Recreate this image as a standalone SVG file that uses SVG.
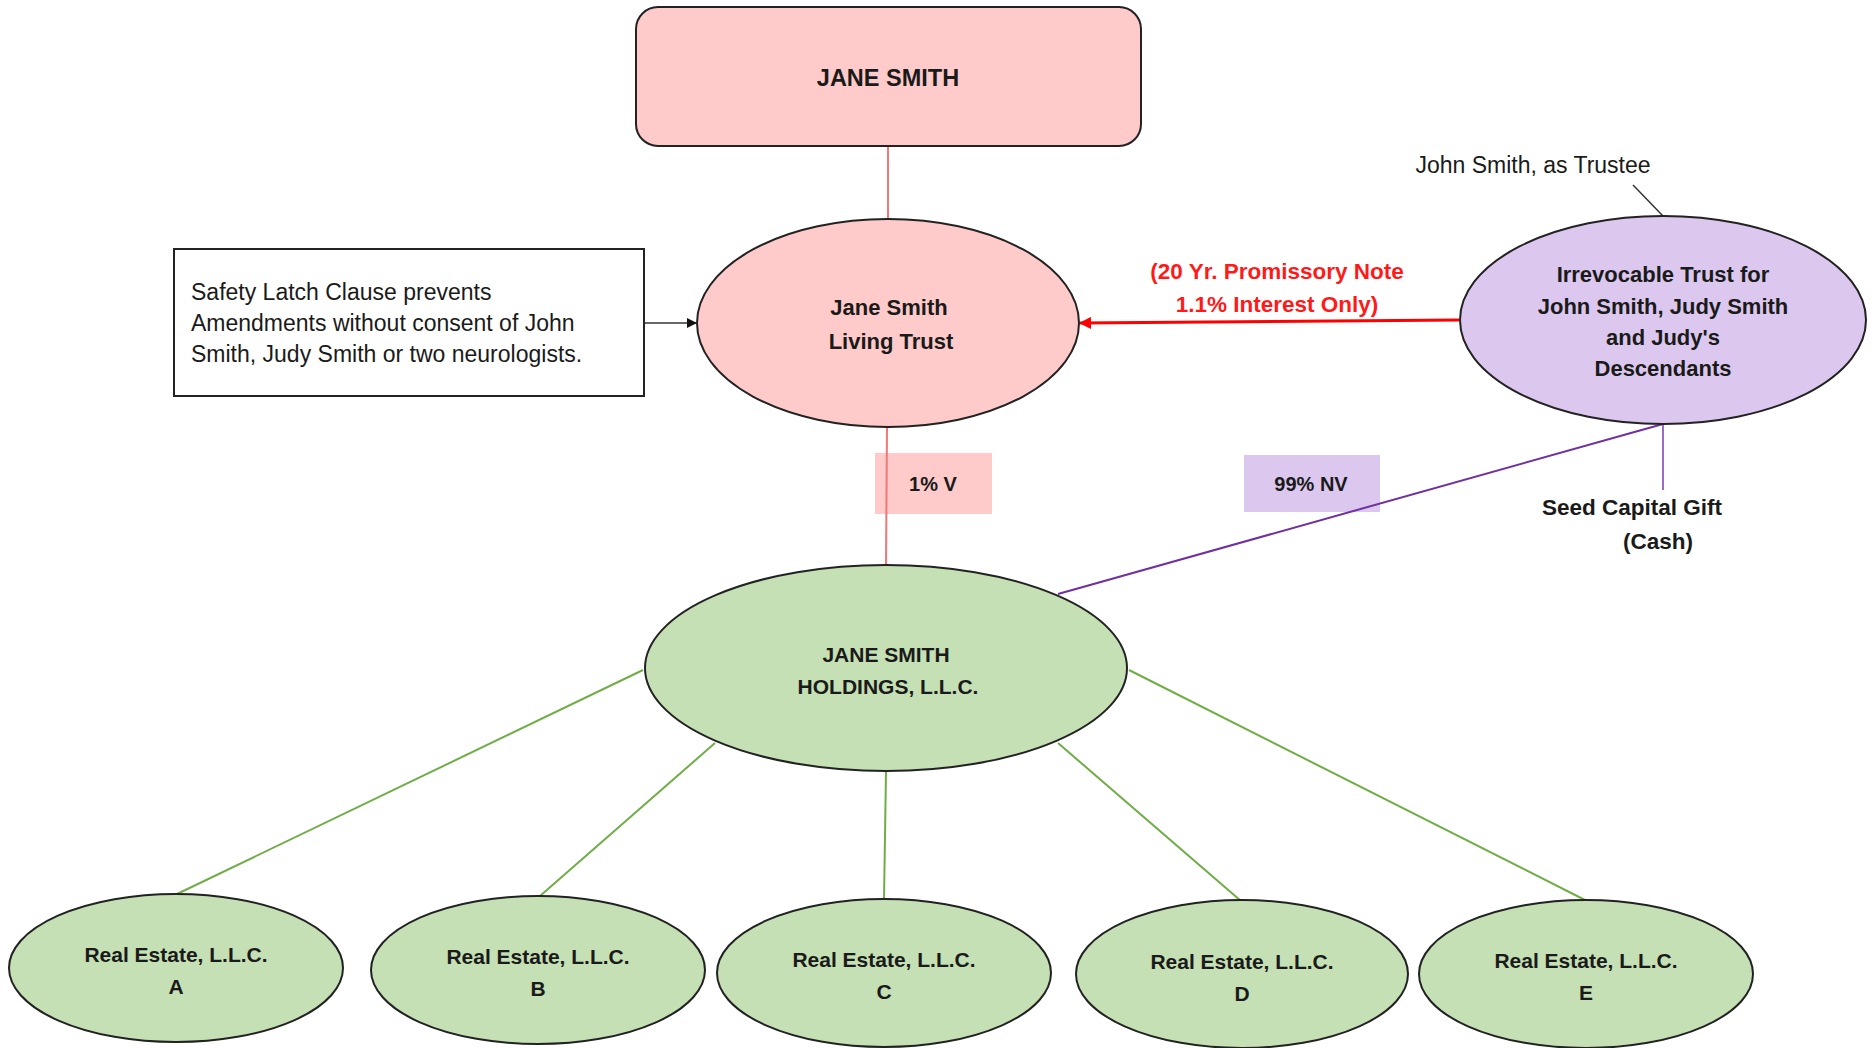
<svg xmlns="http://www.w3.org/2000/svg" width="1874" height="1048" viewBox="0 0 1874 1048">
<style>
text{font-family:"Liberation Sans",Arial,sans-serif;fill:#1a1a1a;text-anchor:middle}
.b{font-weight:bold;font-size:21px}
.b22{font-weight:bold;font-size:22px}
.r{font-size:23px}
.red{fill:#ff1a1a;font-weight:bold;font-size:22.5px}
.node{stroke:#222;stroke-width:2}
.pink{fill:#ffcaca}
.green{fill:#c5e0b4}
.purple{fill:#dcc8ee}
.gl{stroke:#70ad47;stroke-width:2;fill:none}
</style>
<defs>
<marker id="ab" markerWidth="10" markerHeight="10" refX="9" refY="5" orient="auto" markerUnits="userSpaceOnUse"><path d="M0,0 L10,5 L0,10 Z" fill="#111"/></marker>
<marker id="ar" markerWidth="12" markerHeight="12" refX="11" refY="6" orient="auto" markerUnits="userSpaceOnUse"><path d="M0,0 L12,6 L0,12 Z" fill="#ff0000"/></marker>
</defs>
<g id="labels">
<rect x="875" y="453" width="117" height="61" fill="#ffcaca"/>
<text class="b" x="933" y="491" style="font-size:20px">1% V</text>
<rect x="1244" y="455" width="136" height="57" fill="#dcc8ee"/>
<text class="b" x="1311" y="491" style="font-size:20px">99% NV</text>
<text class="r" x="1533" y="173">John Smith, as Trustee</text>
<text class="b" x="1632" y="515" style="font-size:22.5px">Seed Capital Gift</text>
<text class="b" x="1658" y="549" style="font-size:22.5px">(Cash)</text>
<text class="red" x="1277" y="279">(20 Yr. Promissory Note</text>
<text class="red" x="1277" y="312">1.1% Interest Only)</text>
</g>
<g id="connectors">
<line x1="888" y1="147" x2="888" y2="219" stroke="#f07878" stroke-width="2"/>
<line x1="887" y1="427" x2="886" y2="565" stroke="#f07878" stroke-width="2"/>
<line x1="644" y1="323" x2="696" y2="323" stroke="#333" stroke-width="1.5" marker-end="url(#ab)"/>
<line x1="1459" y1="320" x2="1080" y2="323" stroke="#ff0000" stroke-width="3" marker-end="url(#ar)"/>
<line x1="1633" y1="185" x2="1663" y2="216" stroke="#333" stroke-width="1.5"/>
<line x1="1663" y1="424" x2="1663" y2="490" stroke="#9a6cc8" stroke-width="2"/>
<line x1="1663" y1="424" x2="1058" y2="594" stroke="#7030a0" stroke-width="2"/>
<line class="gl" x1="643" y1="670" x2="177" y2="894"/>
<line class="gl" x1="715" y1="743" x2="540" y2="896"/>
<line class="gl" x1="886" y1="772" x2="884" y2="899"/>
<line class="gl" x1="1058" y1="743" x2="1241" y2="901"/>
<line class="gl" x1="1129" y1="670" x2="1585" y2="900"/>
</g>
<g id="jane-smith">
<rect class="node pink" x="636" y="7" width="505" height="139" rx="22"/>
<text class="b" x="888" y="86" style="font-size:23.5px">JANE SMITH</text>
</g>
<g id="safety-latch">
<rect x="174" y="249" width="470" height="147" fill="#fff" stroke="#222" stroke-width="2"/>
<text class="r" x="191" y="300" style="text-anchor:start">Safety Latch Clause prevents</text>
<text class="r" x="191" y="331" style="text-anchor:start">Amendments without consent of John</text>
<text class="r" x="191" y="362" style="text-anchor:start">Smith, Judy Smith or two neurologists.</text>
</g>
<g id="living-trust">
<ellipse class="node pink" cx="888" cy="323" rx="191" ry="104"/>
<text class="b22" x="889" y="315">Jane Smith</text>
<text class="b22" x="891" y="349">Living Trust</text>
</g>
<g id="irrevocable-trust">
<ellipse class="node purple" cx="1663" cy="320" rx="203" ry="104"/>
<text class="b22" x="1663" y="282">Irrevocable Trust for</text>
<text class="b22" x="1663" y="314">John Smith, Judy Smith</text>
<text class="b22" x="1663" y="345">and Judy's</text>
<text class="b22" x="1663" y="376">Descendants</text>
</g>
<g id="holdings">
<ellipse class="node green" cx="886" cy="668" rx="241" ry="103"/>
<text class="b" x="886" y="662">JANE SMITH</text>
<text class="b" x="888" y="694">HOLDINGS, L.L.C.</text>
</g>
<g id="re-a">
<ellipse class="node green" cx="176" cy="968" rx="167" ry="74"/>
<text class="b" x="176" y="962">Real Estate, L.L.C.</text>
<text class="b" x="176" y="994">A</text>
</g>
<g id="re-b">
<ellipse class="node green" cx="538" cy="970" rx="167" ry="74"/>
<text class="b" x="538" y="964">Real Estate, L.L.C.</text>
<text class="b" x="538" y="996">B</text>
</g>
<g id="re-c">
<ellipse class="node green" cx="884" cy="973" rx="167" ry="74"/>
<text class="b" x="884" y="967">Real Estate, L.L.C.</text>
<text class="b" x="884" y="999">C</text>
</g>
<g id="re-d">
<ellipse class="node green" cx="1242" cy="974" rx="166" ry="74"/>
<text class="b" x="1242" y="969">Real Estate, L.L.C.</text>
<text class="b" x="1242" y="1001">D</text>
</g>
<g id="re-e">
<ellipse class="node green" cx="1586" cy="974" rx="167" ry="74"/>
<text class="b" x="1586" y="968">Real Estate, L.L.C.</text>
<text class="b" x="1586" y="1000">E</text>
</g>
</svg>
